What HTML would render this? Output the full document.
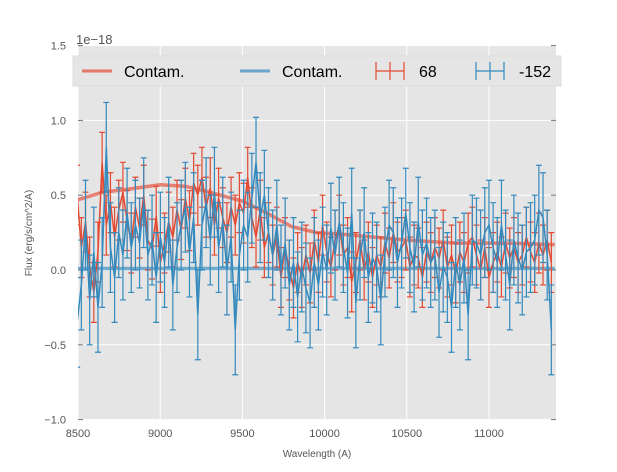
<!DOCTYPE html>
<html><head><meta charset="utf-8"><style>
body{margin:0;background:#fff;font-family:"Liberation Sans",sans-serif}
</style></head><body>
<svg id="chart" width="617" height="467" xmlns="http://www.w3.org/2000/svg" font-family="Liberation Sans, sans-serif"></svg>
<script>
const xTicks=[8500,9000,9500,10000,10500,11000];
const yTicks=[-1.0,-0.5,0.0,0.5,1.0,1.5];
const yTickLabels=["−1.0","−0.5","0.0","0.5","1.0","1.5"];
const redFlux=[0.50,0.15,0.32,0.02,-0.15,0.12,0.72,0.30,0.45,0.22,
0.40,0.52,0.33,0.18,0.42,0.28,0.50,0.20,0.14,0.36,
0.05,0.18,0.32,0.22,0.40,0.27,0.48,0.33,0.58,0.50,
0.62,0.42,0.55,0.30,0.48,0.35,0.25,0.42,0.30,0.45,
0.38,0.62,0.35,0.22,0.40,0.15,0.25,0.10,0.22,-0.05,
0.15,0.00,-0.12,0.05,-0.05,0.10,-0.02,0.20,0.05,0.30,
0.12,0.02,0.20,0.30,0.10,0.15,-0.08,0.05,0.20,0.00,
0.12,-0.05,0.10,0.02,0.18,0.08,0.25,0.12,0.15,0.20,
0.02,0.10,0.08,-0.05,0.12,0.05,0.15,0.08,0.20,0.02,
0.10,-0.02,0.12,0.05,0.18,0.22,0.10,0.00,0.15,-0.05,
0.05,0.12,0.02,0.18,0.08,0.15,0.05,0.10,0.22,0.12,
0.05,0.18,0.10,0.20,0.05];
const blueFlux=[-0.35,-0.10,0.30,-0.20,0.12,-0.25,0.05,0.82,0.15,-0.05,
0.25,0.10,0.38,0.15,0.30,0.18,0.45,0.10,0.20,-0.05,
0.22,0.05,0.32,-0.10,0.15,0.30,0.42,0.12,0.35,-0.30,
0.30,0.45,0.20,0.52,0.15,0.32,0.00,0.22,-0.40,0.10,
0.30,0.22,0.48,0.72,0.35,0.50,0.25,0.10,0.30,0.00,
0.18,-0.10,0.05,-0.18,0.02,-0.12,-0.22,0.05,-0.10,0.12,
0.00,0.28,0.10,0.32,0.15,-0.02,0.38,-0.22,0.10,0.25,
-0.05,0.08,0.02,-0.20,0.12,0.30,0.25,0.05,0.18,0.38,
0.15,0.02,0.32,0.10,0.18,0.05,0.10,-0.15,0.02,-0.05,
-0.25,0.05,-0.10,0.08,-0.30,0.20,0.18,0.10,0.25,0.30,
0.15,0.05,0.30,0.10,-0.10,0.20,0.08,0.00,0.12,0.15,
0.20,0.40,0.35,0.10,-0.40];
const redErr=0.2, blueErr=0.3;
const contamWave=[8500,8650,8800,9000,9150,9300,9500,9650,9800,9950,10100,10300,10500,10800,11100,11400];
const redContam=[0.47,0.52,0.54,0.57,0.56,0.52,0.46,0.38,0.29,0.25,0.24,0.22,0.20,0.18,0.18,0.17];
const blueContam=[0.01,0.01,0.01,0.01,0.01,0.01,0.01,0.01,0.01,0.01,0.01,0.01,0.01,0.01,0.01,0.01];
const waveStart=8495, waveStep=25.3;

const L=78,R=556,T=46,B=420;
const X=w=>L+(w-8500)/500*82.2;
const Y=v=>270-v*149.6;
const S=document.getElementById('chart');
const ns='http://www.w3.org/2000/svg';
function mk(t,a){const e=document.createElementNS(ns,t);for(const k in a)e.setAttribute(k,a[k]);S.appendChild(e);return e;}
let e=mk('rect',{x:L,y:T,width:R-L,height:B-T,fill:'#E5E5E5'});


xTicks.forEach(t=>{const g=mk('line',{x1:X(t),x2:X(t),y1:T,y2:B,stroke:'#fff','stroke-width':1});


const lb=mk('text',{x:X(t),y:B+17,'font-size':11,fill:'#555','text-anchor':'middle'});lb.textContent=t;

});
yTicks.forEach((t,i)=>{const g=mk('line',{x1:L,x2:R,y1:Y(t),y2:Y(t),stroke:'#fff','stroke-width':1});


mk('line',{x1:L,x2:L+5,y1:Y(t),y2:Y(t),stroke:'#777'});mk('line',{x1:R-5,x2:R,y1:Y(t),y2:Y(t),stroke:'#777'});
const lb=mk('text',{x:L-12,y:Y(t)+4,'font-size':11,fill:'#555','text-anchor':'end'});lb.textContent=yTickLabels[i];

});
function contam(arr,col,name){const p=mk('polyline',{points:contamWave.map((w,i)=>X(w)+','+Y(arr[i])).join(' '),fill:'none',stroke:col,'stroke-width':3.5,'stroke-opacity':0.65});

}
function series(arr,err,col,name){
arr.forEach((v,i)=>{const x=X(waveStart+i*waveStep);
const b=mk('path',{d:`M${x},${Y(v+err)}V${Y(v-err)}M${x-3},${Y(v+err)}h6M${x-3},${Y(v-err)}h6`,stroke:col,'stroke-width':1.2,fill:'none'});

});
const p=mk('polyline',{points:arr.map((v,i)=>X(waveStart+i*waveStep)+','+Y(v)).join(' '),fill:'none',stroke:col,'stroke-width':1.5});

}
S.innerHTML+=`<defs><clipPath id="cl"><rect x="${L}" y="${T}" width="${R-L}" height="${B-T}"/></clipPath></defs>`;
const gStart=S.childNodes.length;
contam(redContam,'#E24A33','red-contam-line');
contam(blueContam,'#348ABD','blue-contam-line');
series(redFlux,redErr,'#E24A33','series-68');
series(blueFlux,blueErr,'#348ABD','series-152');
const grp=document.createElementNS(ns,'g');grp.setAttribute('clip-path','url(#cl)');
const kids=Array.from(S.childNodes).slice(gStart);kids.forEach(k=>grp.appendChild(k));S.appendChild(grp);
let lg=mk('rect',{x:73,y:56,width:488,height:30,fill:'#E5E5E5',stroke:'#ddd'});


const items=[['Contam.','#E24A33',82,'line'],['Contam.','#348ABD',240,'line'],['68','#E24A33',376,'err'],['-152','#348ABD',476,'err']];
items.forEach(it=>{const [t,c,x,k]=it;
if(k==='line')mk('line',{x1:x,x2:x+30,y1:71,y2:71,stroke:c,'stroke-width':3,'stroke-opacity':0.7});
else mk('path',{d:`M${x},71h28M${x+14},62V80M${x},62V80M${x+28},62V80`,stroke:c,'stroke-width':1.2,fill:'none'});
const tx=mk('text',{x:x+(k==='line'?42:43),y:77,'font-size':16,fill:'#000'});tx.textContent=t;

});
let o=mk('text',{x:76,y:44,'font-size':13,fill:'#555'});o.textContent='1e−18';


let xl=mk('text',{x:317,y:457,'font-size':10,fill:'#555','text-anchor':'middle'});xl.textContent='Wavelength (A)';


let yl=mk('text',{x:32,y:233,'font-size':10,fill:'#555','text-anchor':'middle',transform:'rotate(-90 32 233)'});yl.textContent='Flux (erg/s/cm^2/A)';


</script>
</body></html>
